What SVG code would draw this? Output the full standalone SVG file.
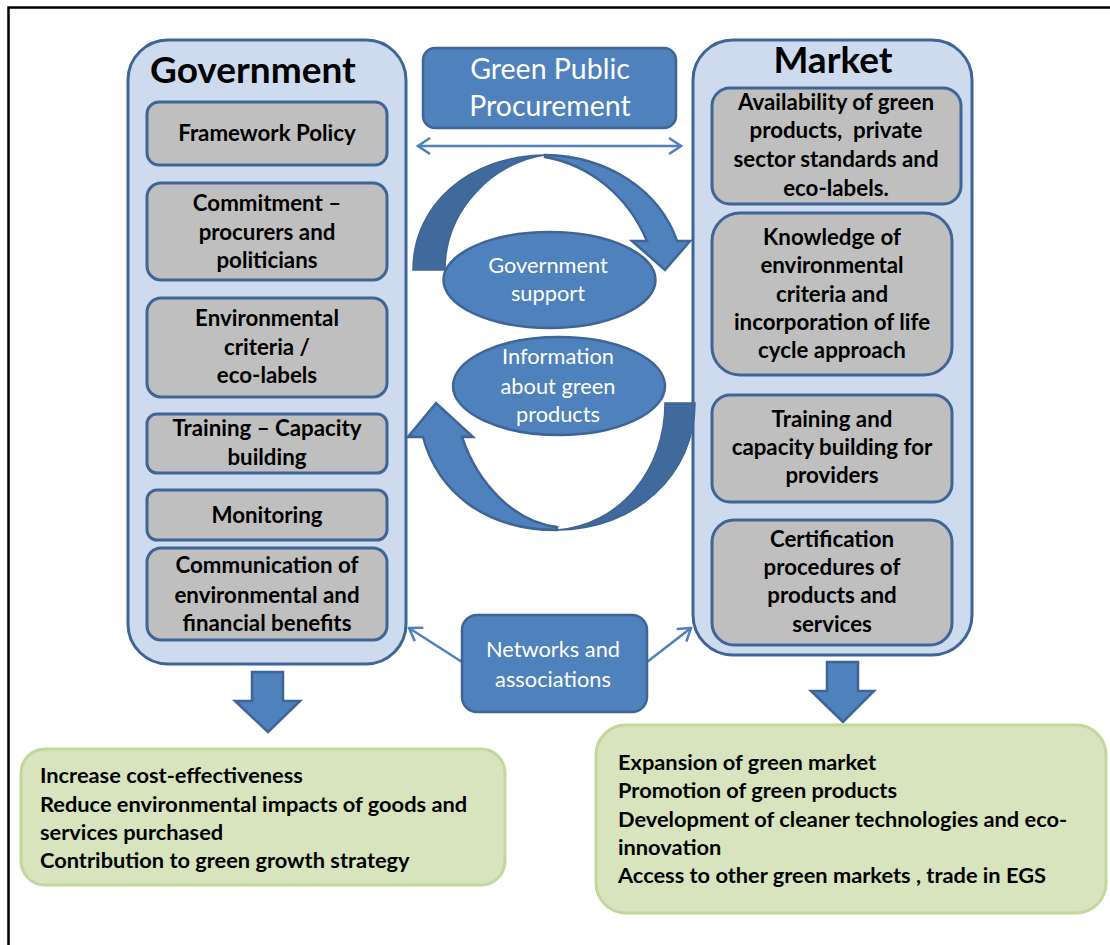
<svg xmlns="http://www.w3.org/2000/svg" width="1110" height="945" viewBox="0 0 1110 945">
<style>
.cont{fill:#CEDBEE;stroke:#3E6595;stroke-width:3}
.gray{fill:#BFBFBF;stroke:#3E6595;stroke-width:3}
.blue{fill:#4F81BD;stroke:#3E6595;stroke-width:2.5}
.dark{fill:#40699C;stroke:#3E6595;stroke-width:1.5}
.green{fill:#D7E4BD;stroke:#C3D69B;stroke-width:3}
.hd{font-family:Lato,"Liberation Sans",sans-serif;font-weight:bold;font-size:37px;fill:#000}
.gt{font-family:Lato,"Liberation Sans",sans-serif;font-weight:bold;font-size:22.3px;fill:#000;text-anchor:middle}
.wt{font-family:Lato,"Liberation Sans",sans-serif;font-size:21.8px;fill:#fff;text-anchor:middle}
.wl{font-size:28.5px}
.bt{font-family:Lato,"Liberation Sans",sans-serif;font-weight:bold;font-size:21.8px;fill:#000}
.conn{stroke:#4F81BD;stroke-width:2.5;fill:none}
</style>
<defs>
<marker id="chev" markerUnits="userSpaceOnUse" viewBox="0 0 16 18" markerWidth="16" markerHeight="18" refX="14" refY="9" orient="auto-start-reverse">
<path d="M2,1 L14,9 L2,17" fill="none" stroke="#4F81BD" stroke-width="2.5"/>
</marker>
</defs>
<rect width="1110" height="945" fill="#fff"/>
<path d="M8.5,945 V7.5 H1110" fill="none" stroke="#000" stroke-width="2.5"/>

<g id="government">
<rect class="cont" x="128" y="40" width="278" height="624" rx="40"/>
<text class="hd" x="150" y="83">Government</text>
</g>
<g id="framework-policy"><rect class="gray" x="147" y="102" width="240" height="63" rx="12"/><text class="gt" x="267" y="141">Framework Policy</text></g>
<g id="commitment"><rect class="gray" x="147" y="183" width="240" height="97" rx="14"/><text class="gt" x="267" y="211">Commitment –</text><text class="gt" x="267" y="240">procurers and</text><text class="gt" x="267" y="268">politicians</text></g>
<g id="env-criteria"><rect class="gray" x="147" y="298" width="240" height="99" rx="14"/><text class="gt" x="267" y="326">Environmental</text><text class="gt" x="267" y="355">criteria /</text><text class="gt" x="267" y="383">eco-labels</text></g>
<g id="training-gov"><rect class="gray" x="147" y="414" width="240" height="59" rx="10"/><text class="gt" x="267" y="436">Training – Capacity</text><text class="gt" x="267" y="465">building</text></g>
<g id="monitoring"><rect class="gray" x="147" y="490" width="240" height="50" rx="10"/><text class="gt" x="267" y="523">Monitoring</text></g>
<g id="communication"><rect class="gray" x="147" y="548" width="240" height="92" rx="14"/><text class="gt" x="267" y="573">Communication of</text><text class="gt" x="267" y="603">environmental and</text><text class="gt" x="267" y="631">financial benefits</text></g>

<g id="market">
<rect class="cont" x="693" y="40" width="279" height="615" rx="40"/>
<text class="hd" x="833" y="73" text-anchor="middle">Market</text>
</g>
<g id="availability"><rect class="gray" x="712" y="88" width="249" height="116" rx="18"/><text class="gt" x="836" y="110">Availability of green</text><text class="gt" x="836" y="138" style="white-space:pre">products,  private</text><text class="gt" x="836" y="167">sector standards and</text><text class="gt" x="836" y="196">eco-labels.</text></g>
<g id="knowledge"><rect class="gray" x="712" y="213" width="240" height="162" rx="28"/><text class="gt" x="832" y="245">Knowledge of</text><text class="gt" x="832" y="273">environmental</text><text class="gt" x="832" y="302">criteria and</text><text class="gt" x="832" y="330">incorporation of life</text><text class="gt" x="832" y="358">cycle approach</text></g>
<g id="training-market"><rect class="gray" x="712" y="395" width="240" height="107" rx="18"/><text class="gt" x="832" y="427">Training and</text><text class="gt" x="832" y="455">capacity building for</text><text class="gt" x="832" y="483">providers</text></g>
<g id="certification"><rect class="gray" x="712" y="520" width="240" height="125" rx="22"/><text class="gt" x="832" y="547">Certification</text><text class="gt" x="832" y="575">procedures of</text><text class="gt" x="832" y="603">products and</text><text class="gt" x="832" y="632">services</text></g>

<g id="connectors">
<line class="conn" x1="418" y1="146" x2="681" y2="146" marker-start="url(#chev)" marker-end="url(#chev)"/>
<line class="conn" x1="462" y1="662" x2="409" y2="628" marker-end="url(#chev)"/>
<line class="conn" x1="647" y1="662" x2="691" y2="628" marker-end="url(#chev)"/>
<path class="dark" d="M413,270 C413,205 468,156 545,155 C495,162 445,208 445,270 Z"/>
<path class="blue" stroke-width="1.5" d="M545,155 C610,156 660,192 677,241 L690,241 L665,270 L632,241 L647,241 C628,196 590,165 545,157 Z"/>
<path class="dark" d="M695,403 C695,475 635,530 557,530 C620,525 665,470 665,403 Z"/>
<path class="blue" stroke-width="1.5" d="M557,530 C485,530 438,492 423,437 L408,437 L436,403 L473,437 L462,437 C478,485 515,522 557,527 Z"/>
<path class="blue" stroke-width="2" d="M252,672 L283,672 L283,701 L300,701 L268,732 L235,701 L252,701 Z"/>
<path class="blue" stroke-width="2" d="M827,662 L858,662 L858,691 L874,691 L843,722 L811,691 L827,691 Z"/>
</g>

<g id="gpp"><rect class="blue" x="423" y="48" width="253" height="80" rx="12"/><text class="wt wl" x="550" y="79">Green Public</text><text class="wt wl" x="550" y="116">Procurement</text></g>
<g id="gov-support"><ellipse class="blue" cx="549.5" cy="280" rx="106" ry="48"/><text class="wt" x="548" y="273">Government</text><text class="wt" x="548" y="301">support</text></g>
<g id="information"><ellipse class="blue" cx="559" cy="386" rx="106" ry="49"/><text class="wt" x="558" y="364">Information</text><text class="wt" x="558" y="394">about green</text><text class="wt" x="558" y="422">products</text></g>
<g id="networks"><rect class="blue" x="462" y="615" width="185" height="97" rx="15"/><text class="wt" x="553" y="657">Networks and</text><text class="wt" x="553" y="687">associations</text></g>

<g id="gov-outcomes"><rect class="green" x="21" y="749" width="484" height="136" rx="24"/>
<text class="bt" x="40" y="783">Increase cost-effectiveness</text>
<text class="bt" x="40" y="812">Reduce environmental impacts of goods and</text>
<text class="bt" x="40" y="840">services purchased</text>
<text class="bt" x="40" y="868">Contribution to green growth strategy</text></g>
<g id="market-outcomes"><rect class="green" x="596" y="725" width="510" height="188" rx="30"/>
<text class="bt" x="618" y="770">Expansion of green market</text>
<text class="bt" x="618" y="798">Promotion of green products</text>
<text class="bt" x="618" y="827">Development of cleaner technologies and eco-</text>
<text class="bt" x="618" y="855">innovation</text>
<text class="bt" x="618" y="883">Access to other green markets , trade in EGS</text></g>
</svg>
